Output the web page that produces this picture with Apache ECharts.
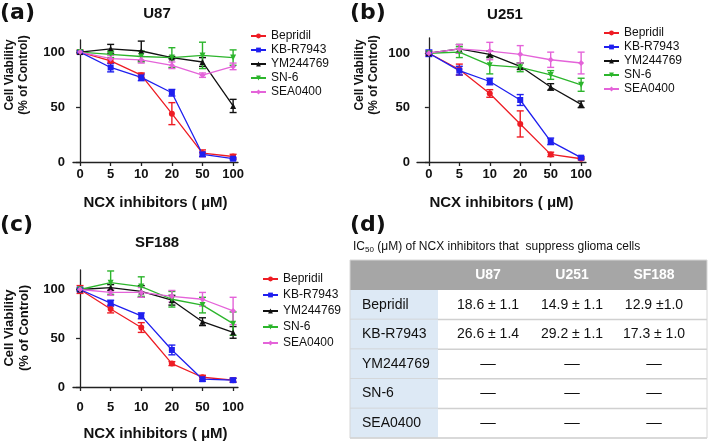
<!DOCTYPE html>
<html>
<head>
<meta charset="utf-8">
<script src="https://cdn.jsdelivr.net/npm/echarts@6/dist/echarts.min.js"></script>
<style>
html, body { margin: 0; padding: 0; background: #fff; }
#main { width: 709px; height: 442px; }
</style>
</head>
<body>
<div id="main"></div>
<script>
var doses = ['0', '5', '10', '20', '50', '100'];
var drugs = ['Bepridil', 'KB-R7943', 'YM244769', 'SN-6', 'SEA0400'];

// mean viability (% of control), one row per drug, in the order of drugs
var u87Mean = [
    [100, 92, 79, 44, 8, 5],
    [100, 86, 77, 63, 7, 3],
    [100, 103, 101, 95, 91, 51],
    [100, 98, 96, 95, 97, 95],
    [100, 94, 93, 88, 79, 87]
];
var u87Err = [
    [2, 2, 2, 10, 3, 2],
    [1, 4, 3, 3, 2, 1],
    [1, 4, 9, 1, 4, 6],
    [1, 3, 5, 9, 12, 7],
    [1, 3, 3, 3, 2, 3]
];
var u251Mean = [
    [100, 85, 63, 35, 7, 3],
    [100, 84, 74, 57, 19, 4],
    [100, 104, 99, 88, 69, 53],
    [100, 101, 89, 87, 80, 71],
    [100, 104, 102, 99, 94, 91]
];
var u251Err = [
    [2, 5, 3.5, 12, 2, 1],
    [3, 4, 3, 5, 3, 1],
    [1, 4, 3, 3, 3, 3],
    [1, 5, 8, 4, 4, 6],
    [1, 4, 8, 8, 7, 10]
];
var sf188Mean = [
    [100, 80, 61, 24, 10, 7],
    [100, 86, 73, 38, 8, 7],
    [100, 102, 98, 89, 67, 56],
    [100, 107, 103, 90, 84, 65],
    [100, 97, 97, 93, 90, 78]
];
var sf188Err = [
    [4, 4, 5, 2, 2, 2],
    [2, 3, 3, 5, 2, 2],
    [1, 3, 6, 5, 4, 6],
    [1, 12, 10, 8, 8, 12],
    [2, 3, 5, 6, 7, 14]
];
var yTicks = [0, 50, 100];

// IC50 table (d)
var ic50Cols = ['U87', 'U251', 'SF188'];
var ic50U87 = ['18.6 \u00b1 1.1', '26.6 \u00b1 1.4', '\u2013\u2013', '\u2013\u2013', '\u2013\u2013'];
var ic50U251 = ['14.9 \u00b1 1.1', '29.2 \u00b1 1.1', '\u2013\u2013', '\u2013\u2013', '\u2013\u2013'];
var ic50SF188 = ['12.9 \u00b11.0', '17.3 \u00b1 1.0', '\u2013\u2013', '\u2013\u2013', '\u2013\u2013'];

var colors = ['#ee1c24', '#1f1fef', '#111111', '#2cb52c', '#e463d9'];
var symbols = ['circle', 'rect', 'triangle', 'triangle', 'diamond'];
var rotates = [0, 0, 0, 180, 0];
var FONT = '"Liberation Sans", Arial, sans-serif';

var panels = [
    {mean: u87Mean, err: u87Err, left: 73, top: 40, width: 165, height: 122, ymax: 111, xmin: -0.23, xmax: 5.16, yoff: 5, lblMargin: 6, nameGap: 33,
        legend: {left: 250, top: 30, gap: 2}},
    {mean: u251Mean, err: u251Err, left: 417, top: 38, width: 169, height: 124, ymax: 114, xmin: -0.39, xmax: 5.16, yoff: 4, lblMargin: 6, nameGap: 33,
        legend: {left: 603, top: 27, gap: 2}},
    {mean: sf188Mean, err: sf188Err, left: 73, top: 270, width: 165, height: 124, ymax: 120, xmin: -0.23, xmax: 5.16, yoff: 5, lblMargin: 14, nameGap: 39,
        legend: {left: 262, top: 273, gap: 4}}
];

function errRender(params, api) {
    var x = api.value(0), m = api.value(1), e = api.value(2);
    var hi = api.coord([x, m + e]);
    var lo = api.coord([x, m - e]);
    var st = {stroke: api.visual('color'), lineWidth: 1.4};
    var cw = 3.5;
    return {
        type: 'group',
        children: [
            {type: 'line', shape: {x1: hi[0], y1: hi[1], x2: lo[0], y2: lo[1]}, style: st},
            {type: 'line', shape: {x1: hi[0] - cw, y1: hi[1], x2: hi[0] + cw, y2: hi[1]}, style: st},
            {type: 'line', shape: {x1: lo[0] - cw, y1: lo[1], x2: lo[0] + cw, y2: lo[1]}, style: st}
        ]
    };
}

var grids = [], xAxes = [], yAxes = [], series = [], legends = [];
panels.forEach(function (p, g) {
    grids.push({left: p.left, top: p.top, width: p.width, height: p.height});
    xAxes.push({
        type: 'value', gridIndex: g, min: p.xmin, max: p.xmax,
        name: 'NCX inhibitors ( \u03bcM)', nameLocation: 'middle', nameGap: p.nameGap,
        nameTextStyle: {fontFamily: FONT, fontWeight: 'bold', fontSize: 15, color: '#111'},
        axisLine: {show: true, lineStyle: {color: '#222', width: 1.3}},
        axisTick: {show: true, length: 4, customValues: [0, 1, 2, 3, 4, 5], lineStyle: {color: '#222', width: 1.3}},
        axisLabel: {customValues: [0, 1, 2, 3, 4, 5], margin: p.lblMargin, fontFamily: FONT, fontWeight: 'bold', fontSize: 13, color: '#111',
            formatter: function (v) { return doses[Math.round(v)]; }},
        splitLine: {show: false}
    });
    yAxes.push({
        type: 'value', gridIndex: g, min: 0, max: p.ymax, offset: p.yoff,
        axisLine: {show: true, lineStyle: {color: '#222', width: 1.3}},
        axisTick: {show: true, length: 4, customValues: yTicks, lineStyle: {color: '#222', width: 1.3}},
        axisLabel: {customValues: yTicks, margin: 3, fontFamily: FONT, fontWeight: 'bold', fontSize: 13, color: '#111'},
        splitLine: {show: false}
    });
    drugs.forEach(function (d, k) {
        series.push({
            type: 'custom', name: d + ' err', xAxisIndex: g, yAxisIndex: g,
            renderItem: errRender, encode: {x: 0, y: 1}, z: 2,
            itemStyle: {color: colors[k]},
            data: p.mean[k].map(function (v, i) { return [i, v, p.err[k][i]]; })
        });
        series.push({
            type: 'line', name: d, xAxisIndex: g, yAxisIndex: g, z: 3,
            symbol: symbols[k], symbolRotate: rotates[k], symbolSize: 6,
            itemStyle: {color: colors[k]},
            lineStyle: {color: colors[k], width: 1.3},
            data: p.mean[k].map(function (v, i) { return [i, v]; })
        });
    });
    legends.push({
        data: drugs, orient: 'vertical', left: p.legend.left, top: p.legend.top,
        itemWidth: 15, itemHeight: 6, itemGap: p.legend.gap, padding: 0,
        textStyle: {fontFamily: FONT, fontSize: 12, color: '#111'}
    });
});

function label(txt, x, y, size, opts) {
    opts = opts || {};
    return {
        type: 'text', x: x, y: y, rotation: opts.rot || 0, silent: true,
        style: {
            text: txt, fill: opts.fill || '#111',
            font: (opts.weight || 'bold') + ' ' + size + 'px ' + (opts.family || FONT),
            align: opts.align || 'center', verticalAlign: 'middle', lineHeight: opts.lh
        }
    };
}

var gfx = [
    label('(a)', 0, 13, 22, {align: 'left', family: '"DejaVu Sans", sans-serif'}),
    label('(b)', 350, 13, 22, {align: 'left', family: '"DejaVu Sans", sans-serif'}),
    label('(c)', 0, 225, 22, {align: 'left', family: '"DejaVu Sans", sans-serif'}),
    label('(d)', 350, 225, 22, {align: 'left', family: '"DejaVu Sans", sans-serif'}),
    label('U87', 157, 14, 15),
    label('U251', 505, 15, 15),
    label('SF188', 157, 243, 15),
    label('Cell Viability\n(% of Control)', 17, 75, 12, {rot: Math.PI / 2, lh: 14}),
    label('Cell Viability\n(% of Control)', 367, 75, 12, {rot: Math.PI / 2, lh: 14}),
    label('Cell Viability\n(% of Control)', 17, 328, 13, {rot: Math.PI / 2, lh: 15})
];

// table (d)
var tX = 350, tR = 707, hTop = 260, hH = 30, rH = 29.6, c0 = 438;
var colX = [488, 572, 654];
var colVals = [ic50U87, ic50U251, ic50SF188];
gfx.push({
    type: 'text', x: 353, y: 247, silent: true,
    style: {
        text: '{m|IC}{s|50}{m| (\u03bcM) of NCX inhibitors that  suppress glioma cells}',
        verticalAlign: 'middle',
        rich: {
            m: {fontFamily: FONT, fontSize: 12, fill: '#111'},
            s: {fontFamily: FONT, fontSize: 8, fill: '#111', padding: [5, 0, 0, 0]}
        }
    }
});
gfx.push({type: 'rect', shape: {x: tX, y: hTop, width: tR - tX, height: hH}, style: {fill: '#a6a6a6'}, silent: true});
ic50Cols.forEach(function (c, j) {
    gfx.push(label(c, colX[j], hTop + hH / 2, 14, {fill: '#fff'}));
});
drugs.forEach(function (d, i) {
    var y = hTop + hH + i * rH;
    gfx.push({type: 'rect', shape: {x: tX, y: y, width: c0 - tX, height: rH}, style: {fill: '#dde9f5'}, silent: true});
    gfx.push({type: 'line', shape: {x1: tX, y1: y + rH, x2: tR, y2: y + rH}, style: {stroke: '#d0d0d0', lineWidth: 1.5}, silent: true});
    gfx.push(label(d, 362, y + rH / 2, 14, {align: 'left', weight: 'normal'}));
    colVals.forEach(function (vals, j) {
        gfx.push(label(vals[i], colX[j], y + rH / 2, 14, {weight: 'normal'}));
    });
});
gfx.push({type: 'rect', shape: {x: tX, y: hTop, width: tR - tX, height: hH + rH * drugs.length}, style: {fill: null, stroke: '#d6d6d6', lineWidth: 1}, silent: true});

var myChart = echarts.init(document.getElementById('main'));
myChart.setOption({
    animation: false,
    grid: grids,
    xAxis: xAxes,
    yAxis: yAxes,
    legend: legends,
    series: series,
    graphic: gfx
});
</script>
</body>
</html>
